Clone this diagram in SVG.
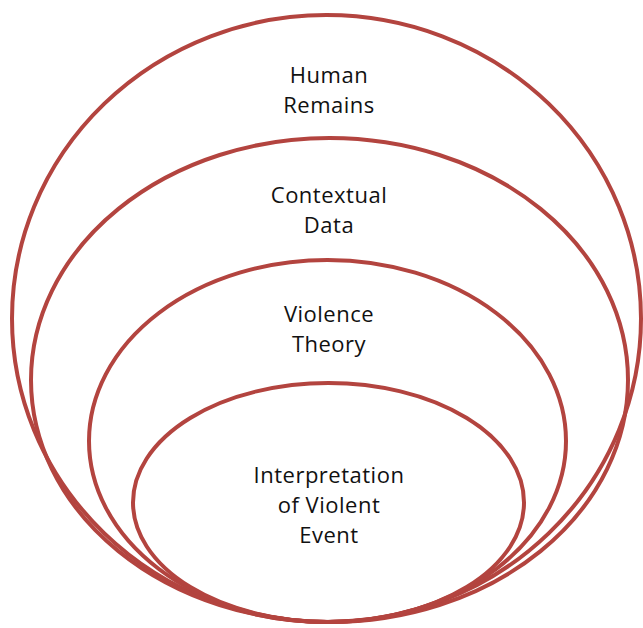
<svg xmlns="http://www.w3.org/2000/svg" width="643" height="628" viewBox="0 0 643 628">
  <style>
    .ring { fill: none; stroke: #B3443F; stroke-width: 4; }
    .label { font-family: "Open Sans", "Noto Sans", "Liberation Sans", sans-serif; font-size: 22px; letter-spacing: 0.5px; fill: #111111; text-anchor: middle; }
  </style>
  <rect width="643" height="628" fill="#ffffff"/>

  <g id="human-remains">
    <ellipse class="ring" cx="326.5" cy="318.5" rx="314.5" ry="303.5"/>
    <text class="label" x="329" y="83">Human</text>
    <text class="label" x="329" y="113">Remains</text>
  </g>

  <g id="contextual-data">
    <ellipse class="ring" cx="329.5" cy="380" rx="298.5" ry="242"/>
    <text class="label" x="329" y="203">Contextual</text>
    <text class="label" x="329" y="233">Data</text>
  </g>

  <g id="violence-theory">
    <ellipse class="ring" cx="327.5" cy="441" rx="238.5" ry="181"/>
    <text class="label" x="329" y="322">Violence</text>
    <text class="label" x="329" y="352">Theory</text>
  </g>

  <g id="interpretation">
    <ellipse class="ring" cx="328.5" cy="502.5" rx="195.5" ry="119.5"/>
    <text class="label" x="329" y="483">Interpretation</text>
    <text class="label" x="329" y="513">of Violent</text>
    <text class="label" x="329" y="543">Event</text>
  </g>
</svg>
